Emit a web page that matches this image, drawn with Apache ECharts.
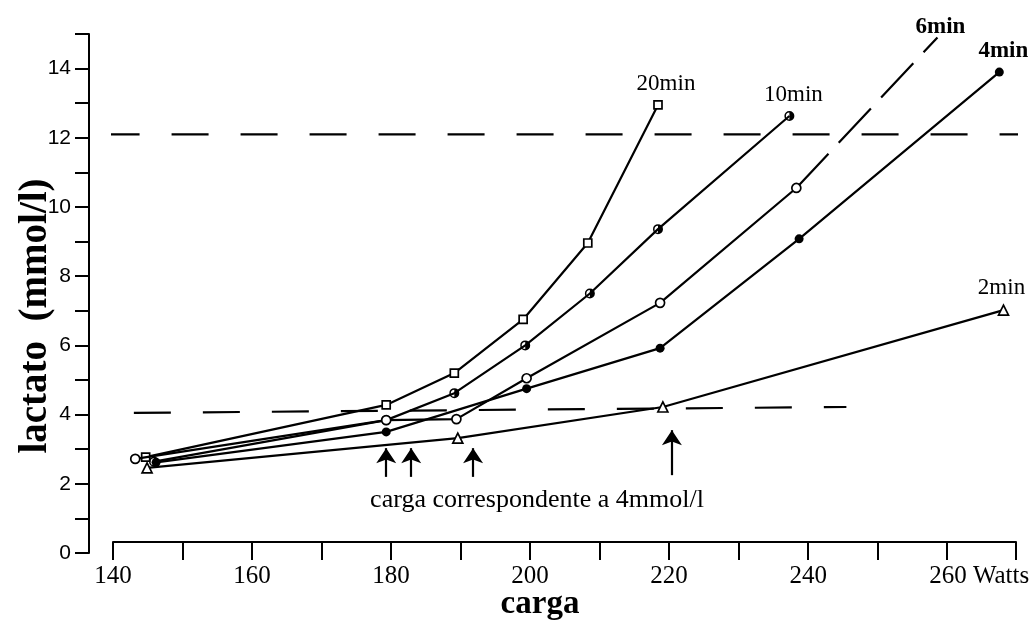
<!DOCTYPE html>
<html>
<head>
<meta charset="utf-8">
<script src="https://cdn.jsdelivr.net/npm/echarts@6/dist/echarts.min.js"></script>
<style>
  html, body { margin: 0; padding: 0; background: #fff; }
  #chart { width: 1036px; height: 623px; }
</style>
</head>
<body>
<div id="chart"></div>
<script>
// Lactate (mmol/l) against load (W) for five stage durations
const loads20 = [144.7, 179.3, 189.1, 199.0, 208.3, 218.4];
const lact20  = [2.77, 4.28, 5.2, 6.75, 8.96, 12.95];

const loads10 = [145.9, 179.3, 189.1, 199.3, 208.6, 218.4, 237.3];
const lact10  = [2.64, 3.84, 4.62, 6.0, 7.5, 9.36, 12.63];

const loads6 = [143.2, 179.3, 189.4, 199.5, 218.7, 238.3];
const lact6  = [2.72, 3.84, 3.87, 5.05, 7.23, 10.55];
// extrapolated part of the 6 min curve (dashed)
const loads6ext = [238.3, 258.6];
const lact6ext  = [10.55, 14.9];

const loads4 = [146.2, 179.3, 199.5, 218.7, 238.7, 267.5];
const lact4  = [2.62, 3.5, 4.75, 5.92, 9.08, 13.9];

const loads2 = [144.9, 189.6, 219.1, 268.1];
const lact2  = [2.46, 3.32, 4.22, 7.02];

// reference levels (dashed horizontals)
const ref4Loads = [143.0, 245.5];
const ref4Lact  = [4.05, 4.22];
const ref12Loads = [138.5, 273.0];
const ref12Lact  = [12.1, 12.1];

// loads matching 4 mmol/l (arrows)
const arrowLoads = [179.3, 182.9, 191.8, 220.4];
const arrowTop   = [3.03, 3.03, 3.03, 3.55];
const arrowBase  = [2.2, 2.2, 2.2, 2.25];

const xTicks = { min: 140, max: 269.9, step: 10 };
const yTicks = { min: 0, max: 15, step: 1 };

const SERIF = '"Liberation Serif", "Times New Roman", serif';
const SANS = '"Liberation Sans", Arial, sans-serif';
const LW = 2.2;

const zip = (xs, ys) => xs.map((x, i) => [x, ys[i]]);

function withEndLabel(xs, ys, text, bold, offset) {
  const pts = zip(xs, ys);
  const last = pts.length - 1;
  pts[last] = {
    value: pts[last],
    label: {
      show: true, formatter: text, position: 'top', distance: 5,
      offset: offset, color: '#000', fontFamily: SERIF, fontSize: 23,
      fontWeight: bold ? 'bold' : 'normal'
    }
  };
  return pts;
}

const halfCircle = 'path://M10,0 A10,10 0 0,1 10,20 A10,10 0 0,1 10,0 Z M10,17 L10,3 A7,7 0 0,0 10,17 Z';

const lineBase = { type: 'line', lineStyle: { color: '#000', width: LW }, animation: false, z: 3 };
const openItem = { color: '#fff', borderColor: '#000', borderWidth: 1.7 };

const chart = echarts.init(document.getElementById('chart'), null, { renderer: 'canvas' });

chart.setOption({
  backgroundColor: '#fff',
  animation: false,
  grid: { left: 113, right: 1036 - 1016, top: 34, bottom: 70 },
  xAxis: {
    type: 'value', min: xTicks.min, max: xTicks.max, interval: xTicks.step,
    offset: -11,
    splitLine: { show: false },
    axisLine: { show: true, onZero: false, lineStyle: { color: '#000', width: 2 } },
    axisTick: { show: true, length: 18, lineStyle: { color: '#000', width: 2 } },
    axisLabel: {
      margin: 22, color: '#000', fontFamily: SERIF, fontSize: 25,
      formatter: v => {
        if (v % 20 !== 0) return '';
        return v === 260 ? '{pad|}260 Watts' : String(v);
      },
      rich: { pad: { width: 64 } }
    }
  },
  yAxis: {
    type: 'value', min: yTicks.min, max: yTicks.max, interval: yTicks.step,
    offset: 24,
    splitLine: { show: false },
    axisLine: { show: true, onZero: false, lineStyle: { color: '#000', width: 2 } },
    axisTick: { show: true, length: 14, lineStyle: { color: '#000', width: 2 } },
    axisLabel: {
      margin: 18, color: '#000', fontFamily: SANS, fontSize: 21,
      formatter: v => (v % 2 === 0 && v <= 14) ? String(v) : ''
    }
  },
  graphic: [
    {
      type: 'text', position: [540, 604], style: {
        text: 'carga', fontFamily: SERIF, fontSize: 33, fontWeight: 'bold',
        fill: '#000', textAlign: 'center', textVerticalAlign: 'middle'
      }
    },
    {
      type: 'text', rotation: Math.PI / 2, position: [36, 316], style: {
        text: 'lactato  (mmol/l)', fontFamily: SERIF, fontSize: 39, fontWeight: 'bold',
        fill: '#000', textAlign: 'center', textVerticalAlign: 'middle'
      }
    },
    {
      type: 'text', position: [537, 500], style: {
        text: 'carga correspondente a 4mmol/l', fontFamily: SERIF, fontSize: 26,
        fill: '#000', textAlign: 'center', textVerticalAlign: 'middle'
      }
    }
  ],
  series: [
    // dashed reference levels
    Object.assign({}, lineBase, {
      name: 'ref4', data: zip(ref4Loads, ref4Lact), symbol: 'none', clip: false, z: 1,
      lineStyle: { color: '#000', width: LW, type: [37, 32] }
    }),
    Object.assign({}, lineBase, {
      name: 'ref12', data: zip(ref12Loads, ref12Lact), symbol: 'none', clip: false, z: 1,
      lineStyle: { color: '#000', width: LW, type: [37, 32] }
    }),
    // 2 min
    Object.assign({}, lineBase, {
      name: '2min', data: withEndLabel(loads2, lact2, '2min', false, [-2, 0]),
      symbol: 'triangle', symbolSize: 10, itemStyle: openItem
    }),
    // 4 min
    Object.assign({}, lineBase, {
      name: '4min', data: withEndLabel(loads4, lact4, '4min', true, [4, 0]),
      symbol: 'circle', symbolSize: 9, itemStyle: { color: '#000' }
    }),
    // 10 min
    Object.assign({}, lineBase, {
      name: '10min', data: withEndLabel(loads10, lact10, '10min', false, [4, 0]),
      symbol: halfCircle, symbolSize: 10, itemStyle: { color: '#000' }
    }),
    // 6 min
    Object.assign({}, lineBase, {
      name: '6min', data: zip(loads6, lact6),
      symbol: 'circle', symbolSize: 9, itemStyle: openItem, z: 4
    }),
    Object.assign({}, lineBase, {
      name: '6min-ext', data: withEndLabel(loads6ext, lact6ext, '6min', true, [3, 7]),
      symbol: 'circle', symbolSize: 1, clip: false,
      itemStyle: { color: 'rgba(0,0,0,0)', borderWidth: 0 },
      lineStyle: { color: '#000', width: LW, type: [47, 15] }
    }),
    // 20 min
    Object.assign({}, lineBase, {
      name: '20min', data: withEndLabel(loads20, lact20, '20min', false, [8, 0]),
      symbol: 'rect', symbolSize: 8, itemStyle: openItem
    }),
    // arrows at the 4 mmol/l loads
    {
      type: 'lines', coordinateSystem: 'cartesian2d', animation: false, z: 2,
      symbol: ['none', 'arrow'], symbolSize: [11, 15],
      lineStyle: { color: '#000', width: LW, opacity: 1, curveness: 0 },
      data: arrowLoads.map((x, i) => ({ coords: [[x, arrowBase[i]], [x, arrowTop[i]]] }))
    }
  ]
});
</script>
</body>
</html>
